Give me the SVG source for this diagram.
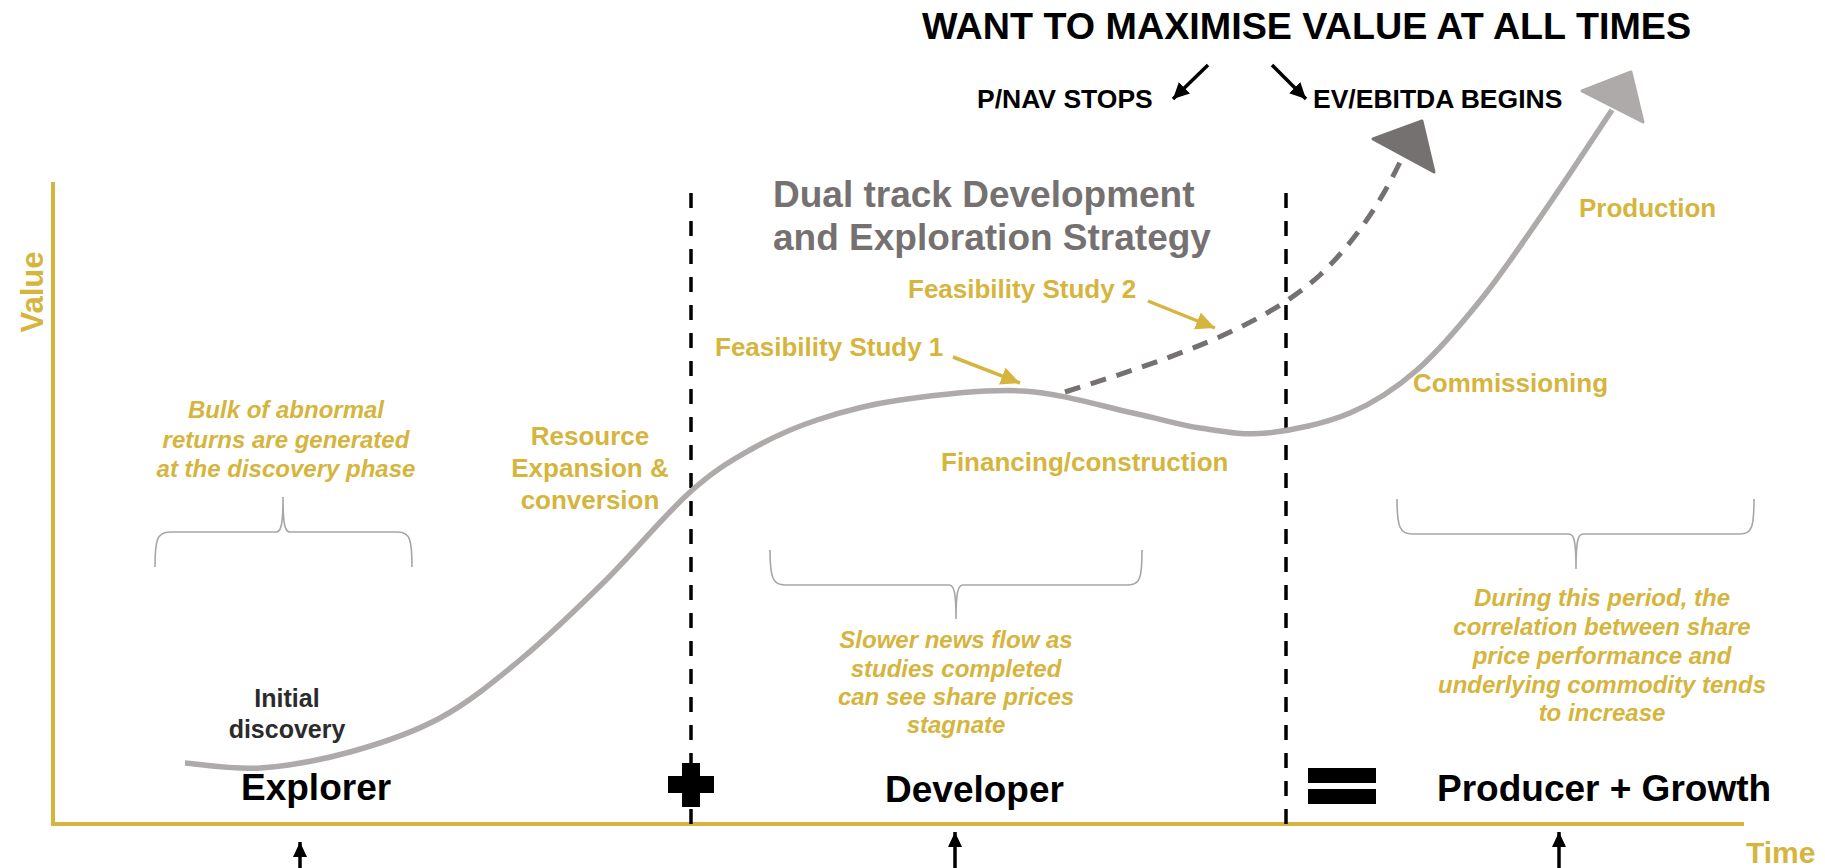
<svg xmlns="http://www.w3.org/2000/svg" width="1825" height="868" viewBox="0 0 1825 868">
<style>
text{font-family:"Liberation Sans",Arial,sans-serif;font-weight:bold}
.gold{fill:#D5B53E}
.it{font-style:italic;font-size:24px}
.lbl{font-size:26px}
.big{font-size:37px;fill:#000}
.axis{stroke:#D5B53E;stroke-width:4;fill:none}
.vdash{stroke:#000;stroke-width:3.5;stroke-dasharray:15 13;fill:none}
.brace{stroke:#A6A6A6;stroke-width:1.6;fill:none}
.garrow{stroke:#D5B53E;stroke-width:3.5;fill:none}
.karrow{stroke:#000;stroke-width:3.5;fill:none}
.uarrow{stroke:#000;stroke-width:3.5;fill:none}
</style>
<defs>
<marker id="gh" markerUnits="userSpaceOnUse" markerWidth="24" markerHeight="24" refX="19" refY="9" orient="auto">
<path d="M0,0 L19,9 L0,18 Z" fill="#D5B53E"/>
</marker>
<marker id="kh" markerUnits="userSpaceOnUse" markerWidth="20" markerHeight="20" refX="16" refY="8" orient="auto">
<path d="M0,0 L16,8 L0,16 Z" fill="#000"/>
</marker>
<marker id="uh" markerUnits="userSpaceOnUse" markerWidth="20" markerHeight="20" refX="15" refY="7" orient="auto">
<path d="M0,0 L15,7 L0,14 Z" fill="#000"/>
</marker>
</defs>
<rect width="1825" height="868" fill="#fff"/>

<g id="axes">
<line class="axis" x1="53" y1="182" x2="53" y2="826"/>
<line class="axis" x1="51" y1="824" x2="1744" y2="824"/>
<text class="gold" font-size="31" text-anchor="middle" transform="translate(43,292) rotate(-90)">Value</text>
<text class="gold" font-size="30" x="1746" y="863">Time</text>
</g>

<g id="dividers">
<line class="vdash" x1="691" y1="193" x2="691" y2="824"/>
<line class="vdash" x1="1286" y1="193" x2="1286" y2="824"/>
<rect x="682" y="763" width="18" height="44" fill="#000"/>
<rect x="668" y="776" width="46" height="17" fill="#000"/>
<rect x="1308" y="768" width="68" height="15" fill="#000"/>
<rect x="1308" y="789" width="68" height="15" fill="#000"/>
</g>

<g id="connectors">
<path d="M185,763 C197.5,763.8 232.5,769.8 260,768 C287.5,766.2 320,760.3 350,752 C380,743.7 411.7,733.3 440,718 C468.3,702.7 492.8,682.5 520,660 C547.2,637.5 574.8,610.8 603,583 C631.2,555.2 664.5,515.2 689,493 C713.5,470.8 728.7,462.2 750,450 C771.3,437.8 792,428.3 817,420 C842,411.7 865.7,404.8 900,400 C934.3,395.2 984.2,388.8 1023,391 C1061.8,393.2 1103.5,406.8 1133,413 C1162.5,419.2 1177.7,424.7 1200,428 C1222.3,431.3 1242,435.5 1267,433 C1292,430.5 1325,423.5 1350,413 C1375,402.5 1394.8,389.3 1417,370 C1439.2,350.7 1460.8,324.8 1483,297 C1505.2,269.2 1528.5,234.2 1550,203 C1571.5,171.8 1601.7,125.5 1612,110" stroke="#AEAAAA" stroke-width="5.5" fill="none"/>
<polygon points="1631,72 1582,91 1643,122" fill="#AEAAAA" stroke="#AEAAAA" stroke-width="3" stroke-linejoin="round"/>
<path d="M1065,392 C1160,362 1260,330 1320,275 C1365,232 1390,185 1408,145" stroke="#767171" stroke-width="5" stroke-dasharray="16 11" fill="none"/>
<polygon points="1422,121 1373,139 1434,172" fill="#767171" stroke="#767171" stroke-width="3" stroke-linejoin="round"/>
<line class="garrow" x1="953" y1="357" x2="1020" y2="383" marker-end="url(#gh)"/>
<line class="garrow" x1="1148" y1="301" x2="1215" y2="328" marker-end="url(#gh)"/>
<line class="karrow" x1="1208" y1="65" x2="1173" y2="99" marker-end="url(#kh)"/>
<line class="karrow" x1="1272" y1="65" x2="1306" y2="99" marker-end="url(#kh)"/>
<line class="uarrow" x1="300" y1="868" x2="300" y2="842" marker-end="url(#uh)"/>
<line class="uarrow" x1="955" y1="868" x2="955" y2="832" marker-end="url(#uh)"/>
<line class="uarrow" x1="1559" y1="868" x2="1559" y2="832" marker-end="url(#uh)"/>
</g>

<g id="braces">
<path class="brace" d="M155,567 C155,540 157,532 170,532 L276,532 C281,532 283,525 283,497 C283,525 285,532 290,532 L398,532 C410,532 412,540 412,567"/>
<path class="brace" d="M770,550 C770,578 773,585 785,585 L949,585 C954,585 956,592 956,619 C956,592 958,585 963,585 L1128,585 C1140,585 1142,578 1142,550"/>
<path class="brace" d="M1397,499 C1397,527 1400,534 1412,534 L1569,534 C1574,534 1576,541 1576,569 C1576,541 1578,534 1583,534 L1740,534 C1752,534 1754,527 1754,499"/>
</g>

<g id="title">
<text class="big" font-size="37.7" style="font-size:37.7px" x="922" y="39">WANT TO MAXIMISE VALUE AT ALL TIMES</text>
<text x="977" y="108" fill="#000" font-size="26.5">P/NAV STOPS</text>
<text x="1313" y="108" fill="#000" font-size="26.5">EV/EBITDA BEGINS</text>
</g>

<g id="strategy">
<text font-size="37" fill="#767171" x="773" y="207">Dual track Development</text>
<text font-size="37" fill="#767171" x="773" y="250">and Exploration Strategy</text>
</g>

<g id="stage-labels">
<text class="gold lbl" x="715" y="356">Feasibility Study 1</text>
<text class="gold lbl" x="908" y="298">Feasibility Study 2</text>
<text class="gold lbl" text-anchor="middle" x="590" y="445">Resource</text>
<text class="gold lbl" text-anchor="middle" x="590" y="477">Expansion &amp;</text>
<text class="gold lbl" text-anchor="middle" x="590" y="509">conversion</text>
<text class="gold lbl" x="941" y="471">Financing/construction</text>
<text class="gold lbl" x="1579" y="217">Production</text>
<text class="gold lbl" x="1413" y="392">Commissioning</text>
<text font-size="25" fill="#2b2b2b" text-anchor="middle" x="287" y="707">Initial</text>
<text font-size="25" fill="#2b2b2b" text-anchor="middle" x="287" y="738">discovery</text>
</g>

<g id="notes">
<text class="gold it" text-anchor="middle" x="286" y="418">Bulk of abnormal</text>
<text class="gold it" text-anchor="middle" x="286" y="448">returns are generated</text>
<text class="gold it" text-anchor="middle" x="286" y="477">at the discovery phase</text>
<text class="gold it" text-anchor="middle" x="956" y="648">Slower news flow as</text>
<text class="gold it" text-anchor="middle" x="956" y="677">studies completed</text>
<text class="gold it" text-anchor="middle" x="956" y="705">can see share prices</text>
<text class="gold it" text-anchor="middle" x="956" y="733">stagnate</text>
<text class="gold it" text-anchor="middle" x="1602" y="606">During this period, the</text>
<text class="gold it" text-anchor="middle" x="1602" y="635">correlation between share</text>
<text class="gold it" text-anchor="middle" x="1602" y="664">price performance and</text>
<text class="gold it" text-anchor="middle" x="1602" y="693">underlying commodity tends</text>
<text class="gold it" text-anchor="middle" x="1602" y="721">to increase</text>
</g>

<g id="phases">
<text class="big" x="241" y="800">Explorer</text>
<text class="big" x="885" y="802">Developer</text>
<text class="big" x="1437" y="801">Producer + Growth</text>
</g>
</svg>
